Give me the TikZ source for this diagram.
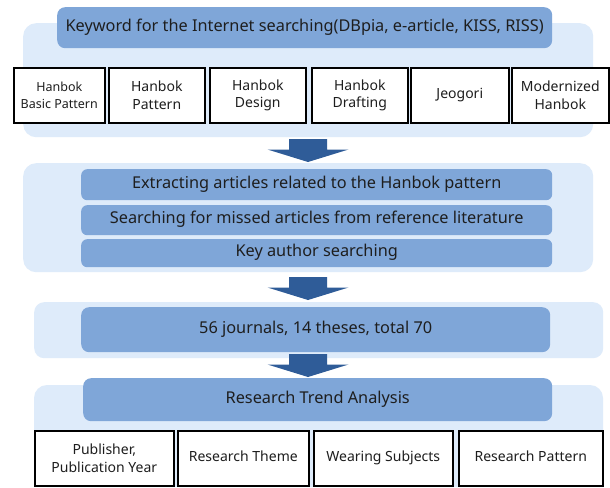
\documentclass[tikz,border=0pt]{standalone}
\usepackage{fontspec}
\setmainfont{Noto Sans}
\usetikzlibrary{positioning,calc}
\definecolor{panelblue}{HTML}{DEEBFA}
\definecolor{barblue}{HTML}{7FA6D8}
\definecolor{arrowblue}{HTML}{2F5C98}
\definecolor{txt}{HTML}{1E1E1E}
\tikzset{
  panel/.style={fill=panelblue, draw=none, rounded corners=13pt, anchor=north west, inner sep=0pt},
  bar/.style={fill=barblue, draw=none, rounded corners=6pt, anchor=north west, inner sep=0pt, text=txt, font=\fontsize{16.3}{18}\selectfont, execute at begin node=\strut},
  kbox/.style={fill=white, draw=black, line width=1.6pt, anchor=north west, inner sep=0pt, text=txt, align=center, font=\fontsize{14}{17.5}\selectfont},
  blockarrow/.pic={\fill[arrowblue] (-19,0) -- (19,0) -- (19,10.5) -- (40.5,10.5) -- (0,23) -- (-40.5,10.5) -- (-19,10.5) -- cycle;}
}
\begin{document}
\begin{tikzpicture}[x=1pt,y=-1pt]
\useasboundingbox[fill=white] (0,0) rectangle (610,487);
% panel 1
\node[panel, minimum width=570pt, minimum height=114pt] (p1) at (23,23) {};
\node[bar, minimum width=495pt, minimum height=41pt, rounded corners=8pt] (kw) at (57,7) {Keyword for the Internet searching(DBpia, e-article, KISS, RISS)};
\node[kbox, minimum width=91pt, minimum height=55pt] (k1) at (13,67) {\fontsize{12.5}{16}\selectfont Hanbok\\\fontsize{12.5}{16}\selectfont Basic Pattern};
\node[kbox, minimum width=96pt, minimum height=55pt] (k2) at (108,67) {Hanbok\\Pattern};
\node[kbox, minimum width=96pt, minimum height=55pt] (k3) at (209,67) {Hanbok\\Design};
\node[kbox, minimum width=96pt, minimum height=55pt] (k4) at (311,67) {Hanbok\\Drafting};
\node[kbox, minimum width=98pt, minimum height=55pt] (k5) at (410,67) {\strut Jeogori};
\node[kbox, minimum width=97pt, minimum height=55pt] (k6) at (511,67) {Modernized\\Hanbok};
\pic at (308,139) {blockarrow};
% panel 2
\node[panel, minimum width=570pt, minimum height=109pt] (p2) at (23,163) {};
\node[bar, minimum width=471pt, minimum height=31pt] (b1) at (81,169) {Extracting articles related to the Hanbok pattern};
\node[bar, minimum width=471pt, minimum height=30pt] (b2) at (81,205) {Searching for missed articles from reference literature};
\node[bar, minimum width=471pt, minimum height=28pt] (b3) at (81,239) {Key author searching};
\pic at (308,277) {blockarrow};
% panel 3
\node[panel, minimum width=569pt, minimum height=56pt, rounded corners=10pt] (p3) at (34,302) {};
\node[bar, minimum width=469pt, minimum height=45pt, rounded corners=8pt] (b4) at (81,307) {56 journals, 14 theses, total 70};
\pic at (308,354) {blockarrow};
% panel 4
\fill[panelblue, rounded corners=13pt] (34,487) -- (34,385) -- (603,385) -- (603,487) -- cycle;
\node[bar, minimum width=469pt, minimum height=43pt, rounded corners=8pt] (rta) at (83,378) {Research Trend Analysis};
\node[kbox, minimum width=139pt, minimum height=55pt] (r1) at (34,430) {Publisher,\\Publication Year};
\node[kbox, minimum width=131pt, minimum height=55pt] (r2) at (177,430) {\strut Research Theme};
\node[kbox, minimum width=139pt, minimum height=55pt] (r3) at (313,430) {\strut Wearing Subjects};
\node[kbox, minimum width=144pt, minimum height=55pt] (r4) at (458,430) {\strut Research Pattern};
\end{tikzpicture}
\end{document}
